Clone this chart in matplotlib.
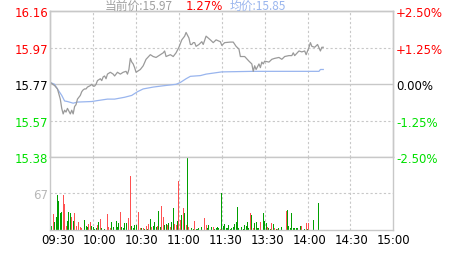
import numpy as np
import matplotlib
matplotlib.use("Agg")
import matplotlib.pyplot as plt
from matplotlib.transforms import ScaledTranslation

plt.rcParams['font.family'] = ['DejaVu Sans', 'Noto Sans CJK SC']

# previous close and header values
prev_close = 15.77
cur_price = 15.97
cur_pct = 1.27
avg_price = 15.85

# price line: minute index since 09:30 (lunch removed) and price
price_min = [0, 3, 5, 7, 8, 9, 10, 11, 12, 14, 15, 16, 17, 18, 19, 21, 22, 23, 24, 25,
             26, 28, 29, 30, 31, 32, 33, 35, 36, 37, 38, 39, 40, 42, 43, 44, 45, 46, 47, 49,
             50, 51, 53, 54, 55, 56, 57, 58, 59, 60, 63, 65, 67, 70, 72, 74, 77, 79, 80, 81,
             84, 86, 88, 90, 92, 94, 95, 97, 98, 99, 100, 101, 102, 104, 106, 107, 109, 112, 114, 116,
             119, 120, 122, 126, 128, 130, 132, 133, 136, 139, 141, 142, 143, 144, 146, 147, 148, 149, 150, 153,
             155, 157, 160, 162, 164, 167, 169, 170, 171, 174, 176, 178, 179, 181, 182, 183, 185, 187, 189, 190, 191]
price_val = [15.78, 15.763, 15.745, 15.69, 15.64, 15.61, 15.63, 15.62, 15.64, 15.61, 15.63, 15.61, 15.65, 15.66, 15.69, 15.71, 15.73, 15.74, 15.745, 15.745,
             15.755, 15.763, 15.77, 15.76, 15.76, 15.77, 15.79, 15.80, 15.79, 15.81, 15.815, 15.80, 15.825, 15.835, 15.83, 15.825, 15.815, 15.825, 15.835, 15.825,
             15.83, 15.835, 15.84, 15.825, 15.85, 15.91, 15.89, 15.88, 15.86, 15.835, 15.85, 15.87, 15.905, 15.93, 15.92, 15.915, 15.93, 15.94, 15.95, 15.92,
             15.93, 15.92, 15.94, 15.97, 16.01, 16.03, 16.05, 16.02, 15.985, 15.985, 15.995, 15.995, 15.975, 15.985, 16.00, 15.985, 16.03, 16.01, 15.995, 16.01,
             16.00, 15.98, 15.995, 15.998, 15.998, 15.975, 15.96, 15.92, 15.92, 15.895, 15.88, 15.84, 15.87, 15.85, 15.88, 15.86, 15.89, 15.88, 15.895, 15.89,
             15.905, 15.91, 15.915, 15.905, 15.92, 15.925, 15.925, 15.94, 15.925, 15.95, 15.945, 15.95, 15.93, 15.97, 15.995, 15.975, 15.97, 15.985, 15.95, 15.97, 15.97]

# average price line
avg_min = [0, 3, 5, 8, 10, 12, 16, 19, 29, 33, 40, 45, 52, 57, 61, 65, 72, 79, 88, 91,
           95, 98, 105, 109, 120, 142, 188, 189, 191]
avg_val = [15.78, 15.77, 15.745, 15.71, 15.68, 15.677, 15.668, 15.674, 15.677, 15.682, 15.69, 15.69, 15.70, 15.71, 15.73, 15.745, 15.755, 15.762, 15.77, 15.78,
           15.80, 15.813, 15.817, 15.825, 15.837, 15.84, 15.84, 15.85, 15.85]

# volume bars: minute index, volume, colour code (k = first, r = up, g = down)
vol_min = [0, 1, 2, 3, 4, 5, 6, 7, 8, 9, 10, 11, 12, 13, 14, 15, 16, 17, 18, 20,
           21, 22, 24, 25, 26, 27, 28, 29, 30, 31, 32, 33, 34, 35, 36, 38, 39, 40, 41, 42,
           43, 44, 46, 47, 48, 49, 50, 51, 52, 53, 55, 56, 57, 58, 59, 60, 62, 63, 64, 65,
           66, 67, 68, 69, 70, 71, 72, 73, 74, 75, 76, 77, 78, 79, 80, 81, 82, 83, 84, 85,
           86, 87, 88, 89, 90, 91, 92, 93, 94, 95, 96, 97, 99, 100, 101, 102, 103, 104, 105, 106,
           108, 109, 110, 111, 113, 114, 115, 116, 117, 118, 119, 120, 121, 122, 123, 124, 125, 126, 127, 128,
           129, 130, 131, 132, 134, 135, 136, 137, 138, 139, 140, 141, 142, 143, 144, 145, 146, 147, 149, 150,
           151, 152, 153, 154, 155, 156, 157, 158, 159, 160, 162, 163, 165, 166, 167, 168, 169, 170, 171, 172,
           173, 175, 176, 178, 179, 180, 181, 182, 184, 185, 186, 188, 189, 190]
vol_val = [29.5, 8, 29.5, 14.5, 23.5, 64, 53.6, 30.8, 32.6, 64, 47.6, 8, 17, 32.6, 30.8, 24.6, 17, 30.8, 8, 14.5,
           5.4, 4, 18.8, 8, 5.4, 11.5, 15, 8, 6.6, 3, 4, 10.3, 14.5, 20.5, 4, 2.4, 1.2, 29.5, 6.6, 4,
           14.5, 5.4, 16.3, 5.4, 13.3, 32.6, 6.6, 4, 12.7, 12.7, 22.3, 98, 8, 4, 9.7, 9.7, 32.6, 4, 4, 4,
           2.4, 8, 2.4, 11.5, 20.5, 6.6, 8, 14.5, 6.6, 8, 34.4, 5.4, 43.4, 24.6, 10.3, 11.5, 10.3, 12.7, 5.4, 14.5,
           40.5, 11.5, 9, 17.5, 89, 18.8, 28.3, 40.5, 30.8, 10.3, 132, 6.6, 4, 2.4, 16.3, 2.4, 1.8, 4, 1.2, 6.6,
           22.3, 10.3, 4, 10.3, 5.4, 5.4, 2.4, 4, 5.4, 4, 2.4, 67, 8, 11.5, 4, 4, 9.7, 2.4, 4, 6.6,
           11.5, 14.5, 42.8, 4, 6.6, 2.4, 9.7, 7.2, 15.7, 3.6, 31.4, 27.8, 3.6, 13.3, 14.5, 3.6, 3.6, 15.7, 31.4, 16.9,
           13.3, 5.4, 3.6, 2.4, 13.3, 11.5, 3.6, 2.4, 2.4, 3.6, 5.4, 1.2, 35, 37.4, 7.2, 3.6, 31.4, 3.6, 3.6, 3.6,
           3.6, 7.2, 7.2, 2.4, 13.3, 2.4, 13.3, 1.2, 19.3, 1.2, 1.2, 49.4, 1.2, 1.2]
vol_col = ("kgrggggggrrrgggrgrrr"
           "rrgggrrggggrgrggrrrr"
           "gggggrggggrrggggrrgr"
           "grgrgrgggrggrrggrgrg"
           "grrgrrgrgrgrggrggggg"
           "rrgggrggggrggggggggg"
           "ggggggggggrgrggggrgg"
           "grggrgrgrgggrggggggg"
           "ggrgrgrgggrggr")

time_ticks = [0, 30, 60, 90, 120, 150, 180, 210, 240]
time_labels = ['09:30', '10:00', '10:30', '11:00', '11:30', '13:30', '14:00', '14:30', '15:00']
pct_levels = [0.025, 0.0125, 0.0, -0.0125, -0.025]
pct_labels = ['+2.50%', '+1.25%', '0.00%', '-1.25%', '-2.50%']
vol_tick = 67

RED = '#ff0000'
GREEN = '#00e000'
GRID = '#c8c8c8'
BAR_RED = '#ff5050'
BAR_GREEN = '#00a000'

fig = plt.figure(figsize=(4.63, 2.55), dpi=100)
W, H = 463.0, 255.0
left, right = 50.3 / W, 393.3 / W
ax = fig.add_axes([left, 1 - 158.3 / H, right - left, (158.3 - 12.3) / H])
axv = fig.add_axes([left, 1 - 231.3 / H, right - left, (231.3 - 158.3) / H])

# ---- price panel ----
levels = [prev_close * (1 + p) for p in pct_levels]
ax.set_xlim(0, 240)
ax.set_ylim(levels[-1], levels[0])
for t in time_ticks[1:-1]:
    ax.axvline(t, color=GRID, lw=0.8, ls=(0, (2, 2)), zorder=1)
ax.axhline(levels[1], color=GRID, lw=0.8, ls=(0, (2, 2)), zorder=1)
ax.axhline(levels[3], color=GRID, lw=0.8, ls=(0, (2, 2)), zorder=1)
ax.axhline(levels[2], color=GRID, lw=1.0, zorder=1)
ax.plot(price_min, price_val, color='#9a9a9a', lw=0.9, zorder=3)
ax.plot(avg_min, avg_val, color='#99b5ee', lw=0.9, zorder=2)

lab_cols = [RED, RED, 'black', GREEN, GREEN]
ax.set_yticks(levels)
ax.set_yticklabels(['%.2f' % v for v in levels])
for tl, c in zip(ax.get_yticklabels(), lab_cols):
    tl.set_color(c)
ax.tick_params(axis='y', length=0, pad=1.5, labelsize=8.5)
ax.set_xticks([])
ax2 = ax.twinx()
ax2.set_ylim(ax.get_ylim())
ax2.set_yticks(levels)
ax2.set_yticklabels(pct_labels)
for tl, c in zip(ax2.get_yticklabels(), lab_cols):
    tl.set_color(c)
ax2.tick_params(axis='y', length=0, pad=2, labelsize=8.5)
for a in (ax, ax2):
    for s in a.spines.values():
        s.set_color(GRID)
        s.set_linewidth(1.0)

# ---- volume panel ----
axv.set_xlim(0, 240)
axv.set_ylim(0, vol_tick * 73 / 37)
for t in time_ticks[1:-1]:
    axv.axvline(t, color=GRID, lw=0.8, ls=(0, (2, 2)), zorder=1)
axv.axhline(vol_tick, color=GRID, lw=0.8, ls=(0, (2, 2)), zorder=1)
cmap = {'k': 'black', 'r': BAR_RED, 'g': BAR_GREEN}
axv.bar(vol_min, vol_val, width=0.72, color=[cmap[c] for c in vol_col], lw=0,
        antialiased=False, zorder=2)
axv.set_yticks([vol_tick])
axv.set_yticklabels([str(vol_tick)], color='#b8b8b8')
axv.tick_params(axis='y', length=0, pad=1.5, labelsize=8.5)
axv.set_xticks(time_ticks)
axv.set_xticklabels(time_labels)
axv.tick_params(axis='x', length=0, pad=2, labelsize=8.5)
for i, tl in enumerate(axv.get_xticklabels()):
    dx = (7.5 - 0.9 * i) / 100.0
    tl.set_transform(tl.get_transform() + ScaledTranslation(dx, 0, fig.dpi_scale_trans))
for s in axv.spines.values():
    s.set_color(GRID)
    s.set_linewidth(1.0)
axv.spines['top'].set_visible(False)

# ---- header ----
hy = 1 - 9.5 / H
fig.text(105 / W, hy, '当前价:%.2f' % cur_price, color='#a0a0a0', fontsize=8.5, va='baseline',
         family=['Noto Sans CJK SC', 'DejaVu Sans'])
fig.text(186 / W, hy, '%.2f%%' % cur_pct, color=RED, fontsize=8.5, va='baseline')
fig.text(230 / W, hy, '均价:%.2f' % avg_price, color='#99b5ee', fontsize=8.5, va='baseline',
         family=['Noto Sans CJK SC', 'DejaVu Sans'])

fig.savefig('out.png', dpi=100)
